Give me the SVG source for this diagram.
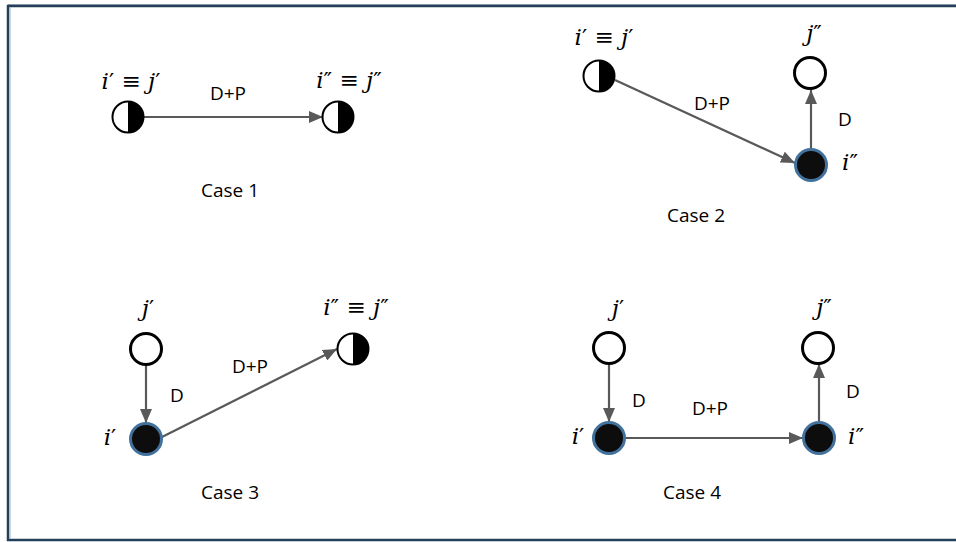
<svg xmlns="http://www.w3.org/2000/svg" width="956" height="542" viewBox="0 0 956 542">
<style>
.lbl{font-family:"Open Sans","Noto Sans",sans-serif;font-size:19px;fill:#000;text-anchor:middle}
.math{font-family:"DejaVu Serif","Liberation Serif",serif;font-style:italic;font-size:23px;fill:#000;text-anchor:middle}
.pr{font-style:normal}
.edge{stroke:#595959;stroke-width:2.2;fill:none;marker-end:url(#ah)}
.white{fill:#fff;stroke:#000;stroke-width:3}
.black{fill:#0d0d0d;stroke:#41719c;stroke-width:3}
</style>
<defs>
<marker id="ah" viewBox="0 0 14 12" refX="14" refY="6" markerWidth="14" markerHeight="12" orient="auto" markerUnits="userSpaceOnUse">
<path d="M0,0 L14,6 L0,12 Z" fill="#595959"/>
</marker>
<g id="halfnode">
<circle cx="0" cy="0" r="15.5" fill="#fff"/>
<path d="M0,-15.5 A15.5,15.5 0 0 1 0,15.5 Z" fill="#000"/>
<circle cx="0" cy="0" r="15.5" fill="none" stroke="#000" stroke-width="2"/>
</g>
</defs>
<rect width="956" height="542" fill="#fff"/>
<g id="frame">
<line x1="8" y1="4.5" x2="956" y2="4.5" stroke="#aab4c0" stroke-width="1"/>
<rect x="8" y="6" width="960" height="534" fill="none" stroke="#243f5a" stroke-width="2.5"/>
<line x1="10" y1="7" x2="10" y2="539" stroke="#9fb0c4" stroke-width="1"/>
</g>
<g id="connectors">
<line class="edge" x1="144" y1="117" x2="323" y2="117"/>
<line class="edge" x1="615" y1="80" x2="795" y2="163"/>
<line class="edge" x1="811" y1="149" x2="811" y2="90"/>
<line class="edge" x1="146" y1="365" x2="146" y2="423"/>
<line class="edge" x1="160" y1="438" x2="337" y2="349"/>
<line class="edge" x1="609" y1="364" x2="609" y2="422"/>
<line class="edge" x1="625" y1="438" x2="803" y2="438"/>
<line class="edge" x1="819" y1="422" x2="819" y2="364"/>
</g>
<g id="labels">
<text class="lbl" x="228" y="100">D+P</text>
<text class="lbl" x="230" y="197">Case 1</text>
<text class="lbl" x="712" y="110">D+P</text>
<text class="lbl" x="845" y="126">D</text>
<text class="lbl" x="696" y="222">Case 2</text>
<text class="lbl" x="177" y="402">D</text>
<text class="lbl" x="250" y="373">D+P</text>
<text class="lbl" x="230" y="499">Case 3</text>
<text class="lbl" x="639" y="407">D</text>
<text class="lbl" x="710" y="415">D+P</text>
<text class="lbl" x="853" y="398">D</text>
<text class="lbl" x="692" y="499">Case 4</text>
</g>
<g id="c1-i1j1"><use href="#halfnode" x="128" y="117"/><text class="math" x="131" y="89">i<tspan class="pr">′</tspan> ≡ j<tspan class="pr">′</tspan></text></g>
<g id="c1-i2j2"><use href="#halfnode" x="338" y="117"/><text class="math" x="349" y="88">i<tspan class="pr">″</tspan> ≡ j<tspan class="pr">″</tspan></text></g>
<g id="c2-i1j1"><use href="#halfnode" x="599" y="76"/><text class="math" x="604" y="45">i<tspan class="pr">′</tspan> ≡ j<tspan class="pr">′</tspan></text></g>
<g id="c2-j2"><circle class="white" cx="810" cy="73" r="15.5"/><text class="math" x="814" y="41">j<tspan class="pr">″</tspan></text></g>
<g id="c2-i2"><circle class="black" cx="811" cy="165" r="15.5"/><text class="math" x="850" y="170">i<tspan class="pr">″</tspan></text></g>
<g id="c3-j1"><circle class="white" cx="146" cy="349" r="15.5"/><text class="math" x="148" y="316">j<tspan class="pr">′</tspan></text></g>
<g id="c3-i1"><circle class="black" cx="146" cy="439" r="15.5"/><text class="math" x="110" y="445">i<tspan class="pr">′</tspan></text></g>
<g id="c3-i2j2"><use href="#halfnode" x="353" y="349"/><text class="math" x="356" y="315">i<tspan class="pr">″</tspan> ≡ j<tspan class="pr">″</tspan></text></g>
<g id="c4-j1"><circle class="white" cx="609" cy="348" r="15.5"/><text class="math" x="618" y="316">j<tspan class="pr">′</tspan></text></g>
<g id="c4-i1"><circle class="black" cx="609" cy="438" r="15.5"/><text class="math" x="578" y="444">i<tspan class="pr">′</tspan></text></g>
<g id="c4-j2"><circle class="white" cx="818" cy="348" r="15.5"/><text class="math" x="824" y="315">j<tspan class="pr">″</tspan></text></g>
<g id="c4-i2"><circle class="black" cx="819" cy="438" r="15.5"/><text class="math" x="856" y="444">i<tspan class="pr">″</tspan></text></g>
</svg>
